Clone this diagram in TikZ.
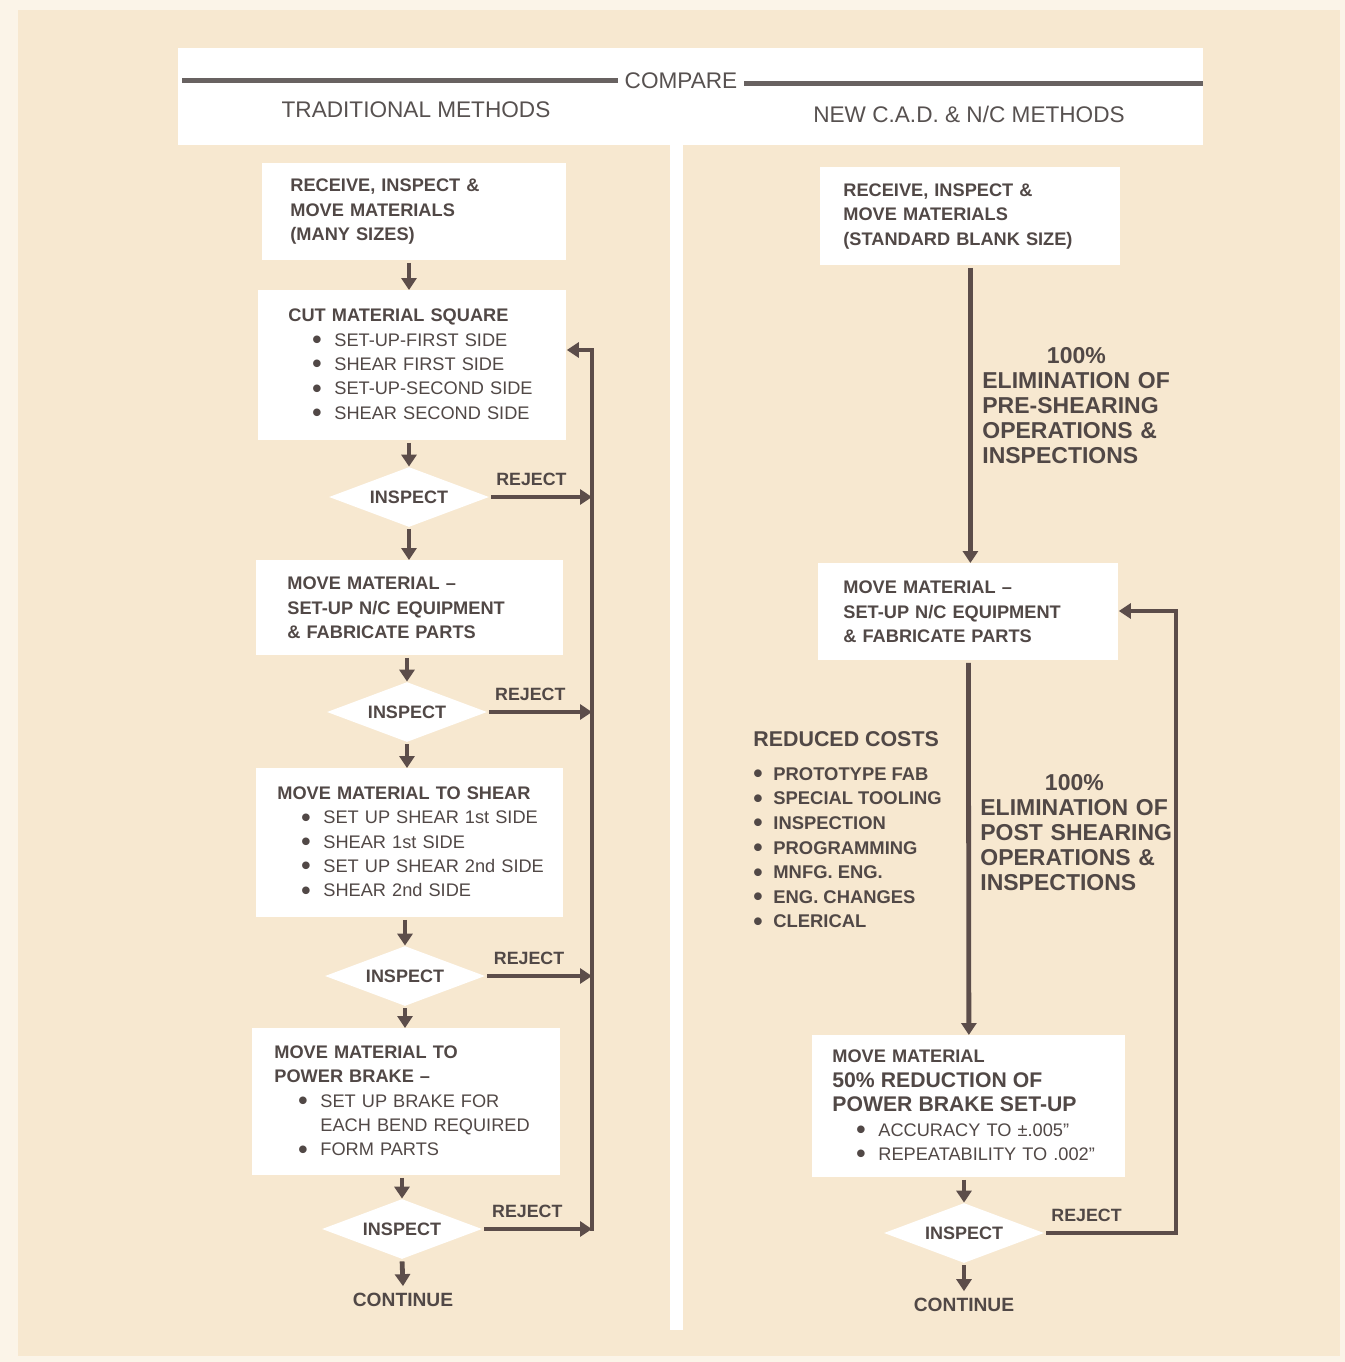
\documentclass[tikz,border=0pt]{standalone}
\usepackage{fontspec}
\setmainfont{Liberation Sans}
\usetikzlibrary{arrows.meta,positioning,shapes.geometric}
\definecolor{PaperBeige}{HTML}{F7E8D0}
\definecolor{PaperEdge}{HTML}{FBF4E8}
\definecolor{InkGrey}{HTML}{514846}
\definecolor{HeadGrey}{HTML}{575150}
\definecolor{ArrowBrown}{HTML}{5C4D4A}
\newcommand{\dotmark}{\raisebox{-1.2pt}{\scalebox{1.45}{\bfseries\textbullet}}}
\newcommand{\itm}[1]{\hspace*{12pt}\makebox[11pt][l]{\dotmark}\mbox{#1}}
\newcommand{\itc}[1]{\hspace*{23pt}\mbox{#1}}
\newcommand{\costitem}[1]{\makebox[10pt][l]{\dotmark}\mbox{#1}}

\begin{document}
\begin{tikzpicture}[x=0.5pt,y=-0.5pt,
box/.style={fill=white,anchor=north west,align=left,inner ysep=0pt,text=InkGrey,font=\fontsize{9.1}{12.2}\selectfont},
check/.style={diamond,aspect=2.67,fill=white,minimum width=80pt,minimum height=30pt,inner sep=0pt,text=InkGrey,font=\bfseries\fontsize{9}{11}\selectfont},
endtext/.style={text=InkGrey,font=\bfseries\fontsize{9.6}{11}\selectfont},
rejtext/.style={text=InkGrey,font=\bfseries\fontsize{8.9}{11}\selectfont,above=1pt},
bigtext/.style={anchor=north west,align=left,inner sep=0pt,text=InkGrey,font=\bfseries\fontsize{11.5}{12.5}\selectfont},
head/.style={text=HeadGrey,font=\fontsize{11.3}{13}\selectfont},
rule/.style={line width=2.5pt,draw=HeadGrey!90},
arrow/.style={-{Triangle[width=7.5pt,length=6pt]},line width=2.4pt,draw=ArrowBrown,shorten <=1pt},
loopline/.style={-{Triangle[width=7.5pt,length=6pt]},line width=2.4pt,draw=ArrowBrown,line cap=rect}
]
\useasboundingbox (0,0) rectangle (1345,1362);
\fill[PaperEdge] (0,0) rectangle (1345,1362);
\fill[PaperBeige] (18,10) rectangle (1340,1356);
\fill[white] (178,48) rectangle (1203,145);
\fill[white] (670,145) rectangle (683,1330);

% heading
\node[head] (compare) at (681,81) {COMPARE};
\coordinate (ruleL) at (182,80);
\coordinate (ruleR) at (1203,83);
\draw[rule] (ruleL) -- (ruleL -| compare.west);
\draw[rule] (compare.east |- ruleR) -- (ruleR);
\node[head] (trad) at (416,110) {TRADITIONAL METHODS};
\node[head] (newm) at (969,114) {NEW C.A.D. \& N/C METHODS};

% traditional methods
\node[box,inner xsep=14pt,text width=124pt,minimum height=48.5pt] (recv1) at (262,163)
  {\bfseries RECEIVE, INSPECT \&\\MOVE MATERIALS\\(MANY SIZES)};
\node[box,inner xsep=15pt,text width=124pt,minimum height=75pt] (cut) at (258,290)
  {{\bfseries CUT MATERIAL SQUARE}\\\itm{SET-UP-FIRST SIDE}\\\itm{SHEAR FIRST SIDE}\\\itm{SET-UP-SECOND SIDE}\\\itm{SHEAR SECOND SIDE}};
\node[check] (ins1) at (409,497) {INSPECT};
\node[box,inner xsep=15.5pt,text width=122.5pt,minimum height=47.5pt] (move1) at (256,560)
  {\bfseries MOVE MATERIAL --\\SET-UP N/C EQUIPMENT\\\& FABRICATE PARTS};
\node[check] (ins2) at (407,712) {INSPECT};
\node[box,inner xsep=10.5pt,text width=132.5pt,minimum height=74.5pt] (shear) at (256,768)
  {{\bfseries MOVE MATERIAL TO SHEAR}\\\itm{SET UP SHEAR 1st SIDE}\\\itm{SHEAR 1st SIDE}\\\itm{SET UP SHEAR 2nd SIDE}\\\itm{SHEAR 2nd SIDE}};
\node[check] (ins3) at (405,976) {INSPECT};
\node[box,inner xsep=11pt,text width=132pt,minimum height=73.5pt] (brake) at (252,1028)
  {{\bfseries MOVE MATERIAL TO\\POWER BRAKE --}\\\itm{SET UP BRAKE FOR}\\\itc{EACH BEND REQUIRED}\\\itm{FORM PARTS}};
\node[check] (ins4) at (402,1229) {INSPECT};
\node[endtext] (cont1) at (403,1300) {CONTINUE};

\draw[arrow] (recv1.south -| ins1) -- (cut.north -| ins1);
\draw[arrow] (cut.south -| ins1) -- (ins1.north);
\draw[arrow] (ins1.south) -- (move1.north -| ins1);
\draw[arrow] (move1.south -| ins2) -- (ins2.north);
\draw[arrow] (ins2.south) -- (shear.north -| ins2);
\draw[arrow] (shear.south -| ins3) -- (ins3.north);
\draw[arrow] (ins3.south) -- (brake.north -| ins3);
\draw[arrow] (brake.south -| ins4) -- (ins4.north);
\draw[arrow] (ins4.south) -- (cont1.north);

\coordinate (loop1) at (592,350);
\draw[arrow] (ins1.east) -- (ins1.east -| loop1) node[rejtext,pos=0.41] {REJECT};
\draw[arrow] (ins2.east) -- (ins2.east -| loop1) node[rejtext,pos=0.41] {REJECT};
\draw[arrow] (ins3.east) -- (ins3.east -| loop1) node[rejtext,pos=0.41] {REJECT};
\draw[arrow] (ins4.east) -- (ins4.east -| loop1) node[rejtext,pos=0.41] {REJECT};
\draw[loopline] (ins4.east -| loop1) -- (loop1) -- (loop1 -| cut.east);

% new C.A.D. & N/C methods
\node[box,inner xsep=11.5pt,text width=127pt,minimum height=49pt] (recv2) at (820,167)
  {\bfseries RECEIVE, INSPECT \&\\MOVE MATERIALS\\(STANDARD BLANK SIZE)};
\node[box,inner xsep=12.5pt,text width=125pt,minimum height=48.5pt] (move2) at (818,563)
  {\bfseries MOVE MATERIAL --\\SET-UP N/C EQUIPMENT\\\& FABRICATE PARTS};
\node[box,inner xsep=10pt,text width=136.5pt,minimum height=71pt] (brake2) at (812,1035)
  {{\bfseries MOVE MATERIAL}\\{\bfseries\fontsize{10.6}{12.4}\selectfont 50\% REDUCTION OF\\POWER BRAKE SET-UP}\\\itm{ACCURACY TO ±.005''}\\\itm{REPEATABILITY TO .002''}};
\node[check] (ins5) at (964,1233) {INSPECT};
\node[endtext] (cont2) at (964,1305) {CONTINUE};

\node[bigtext,text width=96pt] (elim1) at (982,347)
  {\makebox[94pt]{100\%}\\ELIMINATION OF\\PRE-SHEARING\\OPERATIONS \&\\INSPECTIONS};
\node[bigtext,text width=96pt] (elim2) at (980,774)
  {\makebox[94pt]{100\%}\\ELIMINATION OF\\POST SHEARING\\OPERATIONS \&\\INSPECTIONS};
\node[bigtext,font=\bfseries\fontsize{10.7}{12}\selectfont] (costs) at (753,731) {REDUCED COSTS};
\node[bigtext,font=\bfseries\fontsize{9.2}{12.3}\selectfont,below right=10pt and 0pt of costs.south west] (costlist)
  {\costitem{PROTOTYPE FAB}\\\costitem{SPECIAL TOOLING}\\\costitem{INSPECTION}\\\costitem{PROGRAMMING}\\\costitem{MNFG. ENG.}\\\costitem{ENG. CHANGES}\\\costitem{CLERICAL}};

\draw[arrow] (recv2.south) -- (recv2.south |- move2.north);
\draw[arrow] (move2.south) -- (brake2.north);
\draw[arrow] (brake2.south -| ins5) -- (ins5.north);
\draw[arrow] (ins5.south) -- (cont2.north);

\coordinate (loop2) at (1176,611);
\draw[arrow] (ins5.east) -| node[rejtext,pos=0.16] {REJECT} (loop2) -- (move2.east |- loop2);
\end{tikzpicture}
\end{document}
